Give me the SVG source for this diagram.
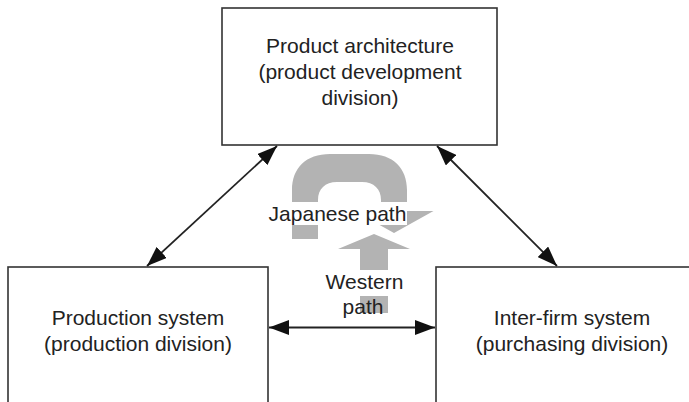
<svg xmlns="http://www.w3.org/2000/svg" width="689" height="402" viewBox="0 0 689 402">
<style>
.box{fill:#fff;stroke:#333;stroke-width:1.6}
.t{font-family:"Liberation Sans",Arial,sans-serif;font-size:21px;fill:#222;text-anchor:middle}
.con{stroke:#222;stroke-width:1.8;fill:none;marker-start:url(#ah);marker-end:url(#ah)}
.gray{fill:#b3b3b3}
</style>
<defs>
<marker id="ah" markerUnits="userSpaceOnUse" markerWidth="20" markerHeight="15" refX="20" refY="7.5" orient="auto-start-reverse" viewBox="0 0 20 15">
<path d="M0,0 L20,7.5 L0,15 Z" fill="#111"/>
</marker>
</defs>
<rect width="689" height="402" fill="#fff"/>
<g id="node-product">
<rect class="box" x="222" y="8" width="275" height="137"/>
<text class="t" x="360" y="53">Product architecture</text>
<text class="t" x="360" y="79">(product development</text>
<text class="t" x="360" y="104.5">division)</text>
</g>
<g id="node-production">
<rect class="box" x="8" y="267" width="260" height="150"/>
<text class="t" x="138" y="325">Production system</text>
<text class="t" x="138" y="351">(production division)</text>
</g>
<g id="node-interfirm">
<rect class="box" x="436" y="267" width="270" height="150"/>
<text class="t" x="572" y="325">Inter-firm system</text>
<text class="t" x="572" y="351">(purchasing division)</text>
</g>
<g id="paths">
<path class="gray" d="M292 239 L292 190 C292 168 306 154 330 154 L369 154 C393 154 407 168 407 190 L407 211 L433.5 211 L394 233 L354.5 211 L381 211 L381 200 C381 189 374 182 362 182 L337 182 C325 182 318 189 318 200 L318 239 Z"/>
<path class="gray" d="M360 313 L360 249 L338 249 L374 234 L410 249 L388 249 L388 313 Z"/>
<rect x="266" y="202" width="141" height="23" fill="#fff"/>
<text class="t" x="337.5" y="221">Japanese path</text>
<rect x="324" y="270" width="81" height="26" fill="#fff"/>
<text class="t" x="364.5" y="289">Western</text>
<text class="t" x="363" y="314">path</text>
</g>
<g id="connectors">
<line class="con" x1="277" y1="146" x2="147" y2="266"/>
<line class="con" x1="437" y1="146" x2="557" y2="266"/>
<line class="con" x1="269" y1="327.5" x2="435" y2="327.5"/>
</g>
</svg>
